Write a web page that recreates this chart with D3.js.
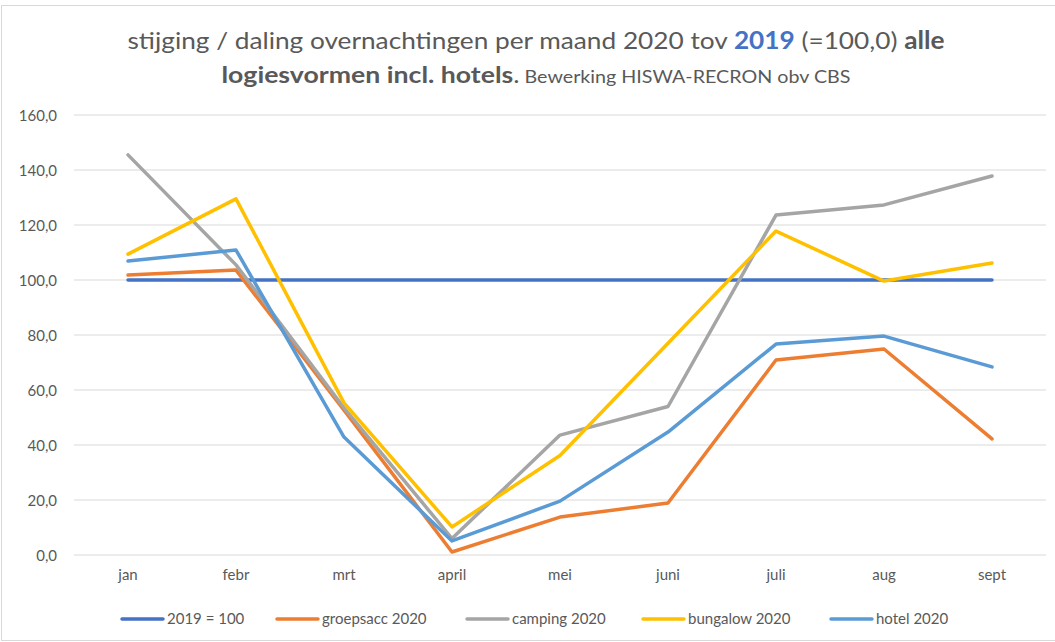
<!DOCTYPE html>
<html>
<head>
<meta charset="utf-8">
<script src="https://cdn.jsdelivr.net/npm/d3@7"></script>
<style>
  body { margin: 0; background: #fff; }
  text { font-family: Lato, "Open Sans", sans-serif; }
</style>
</head>
<body>
<script>
var w = 1055;
var h = 642;

var months = ["jan", "febr", "mrt", "april", "mei", "juni", "juli", "aug", "sept"];
var base2019 = [100, 100, 100, 100, 100, 100, 100, 100, 100];
var groepsacc = [101.8, 103.6, 52.7, 1.1, 13.8, 18.9, 70.9, 74.9, 42.2];
var camping = [145.5, 105.5, 53.5, 6.0, 43.6, 54.0, 123.6, 127.3, 137.8];
var bungalow = [109.4, 129.5, 55.3, 10.2, 36.2, 77.0, 117.8, 99.6, 106.2];
var hotel = [106.9, 110.9, 42.9, 5.1, 19.6, 44.7, 76.7, 79.6, 68.4];
var yTicks = [0, 20, 40, 60, 80, 100, 120, 140, 160];

var series = [
  {name: "2019 = 100", values: base2019, color: "#4472C4"},
  {name: "groepsacc 2020", values: groepsacc, color: "#ED7D31"},
  {name: "camping 2020", values: camping, color: "#A5A5A5"},
  {name: "bungalow 2020", values: bungalow, color: "#FFC000"},
  {name: "hotel 2020", values: hotel, color: "#5B9BD5"}
];

var svg = d3.select("body")
  .append("svg")
  .attr("width", w)
  .attr("height", h);

// chart frame
svg.append("rect")
  .attr("x", 1.5).attr("y", 5.5)
  .attr("width", w + 10).attr("height", h - 7)
  .attr("fill", "#fff")
  .attr("stroke", "#D9D9D9");

var xScale = d3.scaleBand().domain(months).range([74, 1046]);
var yScale = d3.scaleLinear().domain([0, 160]).range([555, 115]);
var cx = function(m) { return xScale(m) + xScale.bandwidth() / 2; };

// gridlines
svg.append("g")
  .selectAll("line")
  .data(yTicks)
  .enter()
  .append("line")
  .attr("x1", 74).attr("x2", 1046)
  .attr("y1", function(d) { return yScale(d); })
  .attr("y2", function(d) { return yScale(d); })
  .attr("stroke", "#D9D9D9")
  .attr("stroke-width", 1);

// y axis labels
var yAxis = d3.axisLeft(yScale)
  .tickValues(yTicks)
  .tickSize(0)
  .tickPadding(0)
  .tickFormat(function(d) { return d3.format(".1f")(d).replace(".", ","); });

svg.append("g")
  .attr("transform", "translate(57,0)")
  .call(yAxis)
  .call(function(g) { g.select(".domain").remove(); })
  .selectAll("text")
  .attr("font-size", "15px")
  .attr("font-family", "Lato, sans-serif")
  .attr("fill", "#595959")
  .attr("dy", "0.35em");

// x axis labels
var xAxis = d3.axisBottom(xScale).tickSize(0).tickPadding(0);
svg.append("g")
  .attr("transform", "translate(0,569)")
  .call(xAxis)
  .call(function(g) { g.select(".domain").remove(); })
  .selectAll("text")
  .attr("font-size", "15px")
  .attr("font-family", "Lato, sans-serif")
  .attr("fill", "#595959")
  .attr("dy", "0.7em");

// lines
var line = d3.line()
  .x(function(d, i) { return cx(months[i]); })
  .y(function(d) { return yScale(d); });

svg.append("g")
  .selectAll("path")
  .data(series)
  .enter()
  .append("path")
  .attr("d", function(s) { return line(s.values); })
  .attr("fill", "none")
  .attr("stroke", function(s) { return s.color; })
  .attr("stroke-width", 3.5)
  .attr("stroke-linecap", "round")
  .attr("stroke-linejoin", "round");

// legend
var legendX = [122, 277, 467, 643, 831];
var legend = svg.append("g")
  .selectAll("g")
  .data(series)
  .enter()
  .append("g")
  .attr("transform", function(d, i) { return "translate(" + legendX[i] + ",619)"; });

legend.append("line")
  .attr("x1", 0).attr("x2", 41)
  .attr("y1", 0).attr("y2", 0)
  .attr("stroke", function(d) { return d.color; })
  .attr("stroke-width", 3.5)
  .attr("stroke-linecap", "round");

legend.append("text")
  .attr("x", 45)
  .attr("y", 0)
  .attr("dy", "0.35em")
  .attr("font-size", "15px")
  .attr("fill", "#595959")
  .text(function(d) { return d.name; });

// title
var t1 = svg.append("text")
  .attr("x", 536).attr("y", 49)
  .attr("text-anchor", "middle")
  .attr("font-size", "24px")
  .attr("fill", "#595959")
  .attr("textLength", 817)
  .attr("lengthAdjust", "spacingAndGlyphs");
t1.append("tspan").text("stijging / daling overnachtingen per maand 2020 tov ");
t1.append("tspan").attr("font-weight", "bold").attr("fill", "#4472C4").text("2019");
t1.append("tspan").text(" (=100,0) ");
t1.append("tspan").attr("font-weight", "bold").text("alle");

var t2 = svg.append("text")
  .attr("x", 536).attr("y", 83)
  .attr("text-anchor", "middle")
  .attr("fill", "#595959")
  .attr("textLength", 629)
  .attr("lengthAdjust", "spacingAndGlyphs");
t2.append("tspan").attr("font-size", "23px").attr("font-weight", "bold").text("logiesvormen incl. hotels");
t2.append("tspan").attr("font-size", "23px").text(".");
t2.append("tspan").attr("font-size", "17px").text(" Bewerking HISWA-RECRON obv CBS");
</script>
</body>
</html>
